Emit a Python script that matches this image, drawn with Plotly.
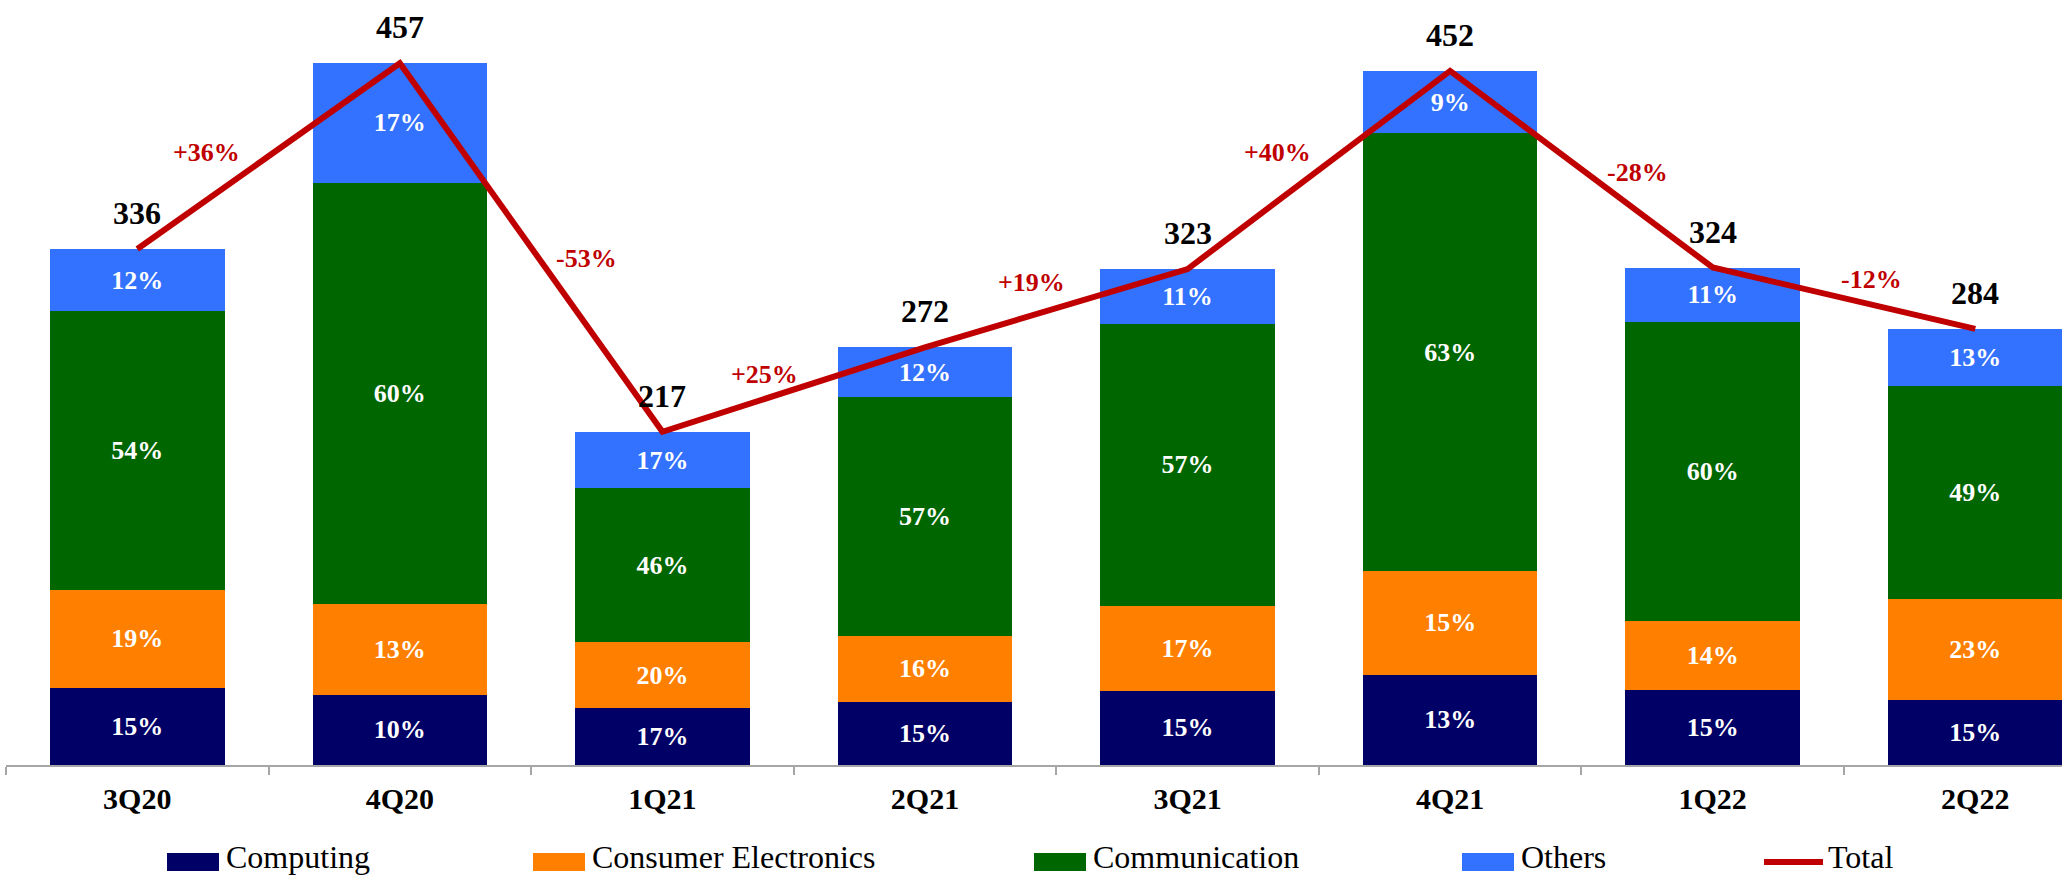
import plotly.graph_objects as go

# ---------------- data ----------------
quarters = ["3Q20", "4Q20", "1Q21", "2Q21", "3Q21", "4Q21", "1Q22", "2Q22"]
totals = [336, 457, 217, 272, 323, 452, 324, 284]
computing_pct = [15, 10, 17, 15, 15, 13, 15, 15]
consumer_pct = [19, 13, 20, 16, 17, 15, 14, 23]
communication_pct = [54, 60, 46, 57, 57, 63, 60, 49]
others_pct = [12, 17, 17, 12, 11, 9, 11, 13]
growth_labels = ["+36%", "-53%", "+25%", "+19%", "+40%", "-28%", "-12%"]

series_names = ["Computing", "Consumer Electronics", "Communication", "Others"]
series_pcts = [computing_pct, consumer_pct, communication_pct, others_pct]

# ---------------- styles / layout constants ----------------
colors = ["#000066", "#FF8000", "#006600", "#3371FF"]
total_color = "#C00000"
axis_color = "#A6A6A6"
FONT = "Palatino Linotype, Book Antiqua, Palatino, Liberation Serif, serif"

W, H = 2062, 875
ML, MR, MT, MB = 6, 0, 0, 110
plot_h = H - MT - MB
plot_w = W - ML - MR
px_per_unit = 1.5355
cat_px = 262.57

# growth label placement (category-axis x, data y)
growth_pos = [(0.265, 399), (1.712, 330), (2.390, 254), (3.407, 314),
              (4.344, 399), (5.715, 386), (6.606, 316)]

fig = go.Figure()

for name, pcts, col in zip(series_names, series_pcts, colors):
    vals = [t * p / 100 for t, p in zip(totals, pcts)]
    fig.add_trace(go.Bar(
        x=quarters, y=vals, name=name,
        marker=dict(color=col, line=dict(width=0)),
        text=[f"{p}%" for p in pcts],
        texttemplate="%{text}",
        textposition="inside",
        insidetextanchor="middle",
        textangle=0,
        constraintext="none",
        textfont=dict(family=FONT, size=26, color="white", weight="bold"),
        width=0.665,
        showlegend=False,
        hoverinfo="skip",
    ))

fig.add_trace(go.Scatter(
    x=quarters, y=totals, name="Total", mode="lines",
    line=dict(color=total_color, width=6),
    showlegend=False, hoverinfo="skip",
))

annotations = []
# totals above bars
for q, t in zip(quarters, totals):
    annotations.append(dict(
        x=q, y=t, xref="x", yref="y", text=f"<b>{t}</b>", showarrow=False,
        yanchor="middle", yshift=36,
        font=dict(family=FONT, size=32, color="black"),
    ))
# growth labels
for lab, (gx, gy) in zip(growth_labels, growth_pos):
    annotations.append(dict(
        x=gx, y=gy, xref="x", yref="y", text=f"<b>{lab}</b>", showarrow=False,
        xanchor="center", yanchor="middle",
        font=dict(family=FONT, size=26, color=total_color),
    ))

# ---------------- manual legend ----------------
def px_x(px):
    return (px - ML) / plot_w

def px_y(py):
    return (MT + plot_h - py) / plot_h

shapes = []
legend_items = [
    ("Computing", colors[0], 167, "box"),
    ("Consumer Electronics", colors[1], 533, "box"),
    ("Communication", colors[2], 1034, "box"),
    ("Others", colors[3], 1462, "box"),
    ("Total", total_color, 1764, "line"),
]
leg_cy = 862
for name, col, x0, kind in legend_items:
    if kind == "box":
        shapes.append(dict(type="rect", xref="paper", yref="paper",
                           x0=px_x(x0), x1=px_x(x0 + 52),
                           y0=px_y(leg_cy + 9), y1=px_y(leg_cy - 9),
                           fillcolor=col, line=dict(width=0)))
        tx = x0 + 57
    else:
        shapes.append(dict(type="line", xref="paper", yref="paper",
                           x0=px_x(x0), x1=px_x(x0 + 59),
                           y0=px_y(leg_cy), y1=px_y(leg_cy),
                           line=dict(color=col, width=6)))
        tx = x0 + 62
    annotations.append(dict(
        x=px_x(tx), y=px_y(leg_cy - 5), xref="paper", yref="paper",
        text=name, showarrow=False, xanchor="left", yanchor="middle",
        font=dict(family=FONT, size=32, color="black"),
    ))

fig.update_layout(
    width=W, height=H,
    margin=dict(l=ML, r=MR, t=MT, b=MB, pad=0),
    barmode="stack",
    paper_bgcolor="white", plot_bgcolor="white",
    font=dict(family=FONT),
    showlegend=False,
    annotations=annotations,
    shapes=shapes,
    xaxis=dict(
        type="category",
        range=[-0.5, -0.5 + plot_w / cat_px],
        showline=True, linecolor=axis_color, linewidth=2,
        ticks="outside", tickson="boundaries", ticklen=8,
        tickcolor=axis_color, tickwidth=2,
        showgrid=False, zeroline=False,
        tickfont=dict(family=FONT, size=30, color="black", weight="bold"),
        ticklabelstandoff=6,
        fixedrange=True,
    ),
    yaxis=dict(
        range=[0, plot_h / px_per_unit],
        visible=False, showgrid=False, zeroline=False, fixedrange=True,
    ),
)

fig.write_html(
    "out.html",
    config={"displayModeBar": False},
    post_script="document.body.style.margin='0px';document.body.style.overflow='hidden';",
)
